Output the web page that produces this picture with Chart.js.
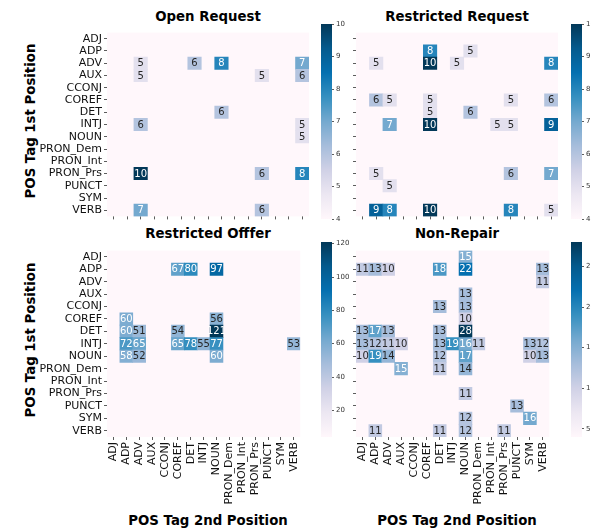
<!DOCTYPE html>
<html lang="en">
<head>
<meta charset="UTF-8">
<title>POS tag pairs</title>
<script src="https://cdn.jsdelivr.net/npm/chart.js"></script>
<style>
  * { margin: 0; padding: 0; box-sizing: border-box; }
  body {
    width: 591px; height: 530px; position: relative; overflow: hidden;
    background: #fff; font-family: "DejaVu Sans", sans-serif; color: #000;
  }
  canvas { position: absolute; }
  .title {
    position: absolute; font-weight: bold; font-size: 13.3px; white-space: nowrap;
    transform: translate(-50%, -50%);
  }
  .ytitle { transform: translate(-50%, -50%) rotate(-90deg); }
</style>
</head>
<body>
<!-- panel titles -->
<div class="title" style="left:208px;top:16px">Open Request</div>
<div class="title" style="left:457px;top:16px">Restricted Request</div>
<div class="title" style="left:208px;top:233px">Restricted Offfer</div>
<div class="title" style="left:457px;top:233px">Non-Repair</div>
<!-- axis titles -->
<div class="title ytitle" style="left:30px;top:121px">POS Tag 1st Position</div>
<div class="title ytitle" style="left:30px;top:340px">POS Tag 1st Position</div>
<div class="title" style="left:208px;top:520px">POS Tag 2nd Position</div>
<div class="title" style="left:457px;top:520px">POS Tag 2nd Position</div>

<canvas id="openReq" width="309" height="201" style="left:0;top:24px"></canvas>
<canvas id="restReq" width="218" height="201" style="left:340px;top:24px"></canvas>
<canvas id="restOff" width="309" height="275" style="left:0;top:242px"></canvas>
<canvas id="nonRep" width="218" height="275" style="left:340px;top:242px"></canvas>

<canvas id="cbOpen" width="31" height="215" style="left:321px;top:14px"></canvas>
<canvas id="cbRest" width="31" height="215" style="left:571px;top:14px"></canvas>
<canvas id="cbOffer" width="31" height="215" style="left:321px;top:232px"></canvas>
<canvas id="cbNon" width="31" height="215" style="left:571px;top:232px"></canvas>

<script>
const tags = ['ADJ', 'ADP', 'ADV', 'AUX', 'CCONJ', 'COREF', 'DET', 'INTJ', 'NOUN',
              'PRON_Dem', 'PRON_Int', 'PRON_Prs', 'PUNCT', 'SYM', 'VERB'];

// [1st position tag, 2nd position tag, count]  (blank cells are left out)
const openRequest = [
  ['ADV', 'ADV', 5], ['ADV', 'DET', 6], ['ADV', 'NOUN', 8], ['ADV', 'VERB', 7],
  ['AUX', 'ADV', 5], ['AUX', 'PRON_Prs', 5], ['AUX', 'VERB', 6],
  ['DET', 'NOUN', 6],
  ['INTJ', 'ADV', 6], ['INTJ', 'VERB', 5],
  ['NOUN', 'VERB', 5],
  ['PRON_Prs', 'ADV', 10], ['PRON_Prs', 'PRON_Prs', 6], ['PRON_Prs', 'VERB', 8],
  ['VERB', 'ADV', 7], ['VERB', 'PRON_Prs', 6]
];
const restrictedRequest = [
  ['ADP', 'COREF', 8], ['ADP', 'NOUN', 5],
  ['ADV', 'ADP', 5], ['ADV', 'COREF', 10], ['ADV', 'INTJ', 5], ['ADV', 'VERB', 8],
  ['COREF', 'ADP', 6], ['COREF', 'ADV', 5], ['COREF', 'COREF', 5], ['COREF', 'PRON_Prs', 5], ['COREF', 'VERB', 6],
  ['DET', 'COREF', 5], ['DET', 'NOUN', 6],
  ['INTJ', 'ADV', 7], ['INTJ', 'COREF', 10], ['INTJ', 'PRON_Int', 5], ['INTJ', 'PRON_Prs', 5], ['INTJ', 'VERB', 9],
  ['PRON_Prs', 'ADP', 5], ['PRON_Prs', 'PRON_Prs', 6], ['PRON_Prs', 'VERB', 7],
  ['PUNCT', 'ADV', 5],
  ['VERB', 'ADP', 9], ['VERB', 'ADV', 8], ['VERB', 'COREF', 10], ['VERB', 'PRON_Prs', 8], ['VERB', 'VERB', 5]
];
const restrictedOffer = [
  ['ADP', 'COREF', 67], ['ADP', 'DET', 80], ['ADP', 'NOUN', 97],
  ['COREF', 'ADP', 60], ['COREF', 'NOUN', 56],
  ['DET', 'ADP', 60], ['DET', 'ADV', 51], ['DET', 'COREF', 54], ['DET', 'NOUN', 121],
  ['INTJ', 'ADP', 72], ['INTJ', 'ADV', 65], ['INTJ', 'COREF', 65], ['INTJ', 'DET', 78],
  ['INTJ', 'INTJ', 55], ['INTJ', 'NOUN', 77], ['INTJ', 'VERB', 53],
  ['NOUN', 'ADP', 58], ['NOUN', 'ADV', 52], ['NOUN', 'NOUN', 60]
];
const nonRepair = [
  ['ADJ', 'NOUN', 15],
  ['ADP', 'ADJ', 11], ['ADP', 'ADP', 13], ['ADP', 'ADV', 10], ['ADP', 'DET', 18], ['ADP', 'NOUN', 22], ['ADP', 'VERB', 13],
  ['ADV', 'VERB', 11],
  ['AUX', 'NOUN', 13],
  ['CCONJ', 'DET', 13], ['CCONJ', 'NOUN', 13],
  ['COREF', 'NOUN', 10],
  ['DET', 'ADJ', 13], ['DET', 'ADP', 17], ['DET', 'ADV', 13], ['DET', 'DET', 13], ['DET', 'NOUN', 28],
  ['INTJ', 'ADJ', 13], ['INTJ', 'ADP', 12], ['INTJ', 'ADV', 11], ['INTJ', 'AUX', 10], ['INTJ', 'DET', 13],
  ['INTJ', 'INTJ', 19], ['INTJ', 'NOUN', 16], ['INTJ', 'PRON_Dem', 11], ['INTJ', 'SYM', 13], ['INTJ', 'VERB', 12],
  ['NOUN', 'ADJ', 10], ['NOUN', 'ADP', 19], ['NOUN', 'ADV', 14], ['NOUN', 'DET', 12], ['NOUN', 'NOUN', 17],
  ['NOUN', 'SYM', 10], ['NOUN', 'VERB', 13],
  ['PRON_Dem', 'AUX', 15], ['PRON_Dem', 'DET', 11], ['PRON_Dem', 'NOUN', 14],
  ['PRON_Prs', 'NOUN', 11],
  ['PUNCT', 'PUNCT', 13],
  ['SYM', 'NOUN', 12], ['SYM', 'SYM', 16],
  ['VERB', 'ADP', 11], ['VERB', 'DET', 11], ['VERB', 'NOUN', 12], ['VERB', 'PRON_Prs', 11]
];

// colour ranges and colorbar ticks
const openRange = [4, 10], openTicks = [4, 5, 6, 7, 8, 9, 10];
const restRange = [4, 10], restTicks = [4, 5, 6, 7, 8, 9, 10];
const offerRange = [4, 121], offerTicks = [20, 40, 60, 80, 100, 120];
const nonRange = [4, 28], nonTicks = [5, 10, 15, 20, 25];

// PuBu colormap
const pubu = ['#fff7fb', '#ece7f2', '#d0d1e6', '#a6bddb', '#74a9cf', '#3690c0', '#0570b0', '#045a8d', '#023858'];
const pubuRgb = pubu.map(h => [1, 3, 5].map(i => parseInt(h.substr(i, 2), 16)));

function cmap(t) {
  t = Math.max(0, Math.min(1, t)) * (pubuRgb.length - 1);
  const i = Math.min(Math.floor(t), pubuRgb.length - 2), f = t - i;
  return pubuRgb[i].map((c, k) => Math.round(c + (pubuRgb[i + 1][k] - c) * f));
}
function luminance(rgb) {
  const lin = c => { c /= 255; return c <= 0.03928 ? c / 12.92 : Math.pow((c + 0.055) / 1.055, 2.4); };
  return 0.2126 * lin(rgb[0]) + 0.7152 * lin(rgb[1]) + 0.0722 * lin(rgb[2]);
}

const FONT = '"DejaVu Sans", sans-serif';
Chart.defaults.font.family = FONT;
Chart.defaults.animation = false;

// pale background behind the empty cells
const areaBg = {
  id: 'areaBg',
  beforeDatasetsDraw(chart) {
    const { ctx, chartArea: a } = chart;
    ctx.save();
    ctx.fillStyle = pubu[0];
    ctx.fillRect(a.left, a.top, a.width, a.height);
    ctx.restore();
  }
};

// count written in the middle of each cell
const cellText = {
  id: 'cellText',
  afterDatasetsDraw(chart) {
    const { ctx } = chart;
    const ds = chart.data.datasets[0];
    ctx.save();
    ctx.font = '10px ' + FONT;
    ctx.textAlign = 'center';
    ctx.textBaseline = 'middle';
    chart.getDatasetMeta(0).data.forEach((bar, i) => {
      const raw = ds.data[i];
      const p = bar.getProps(['x', 'y', 'base'], true);
      ctx.fillStyle = luminance(raw.rgb) > 0.408 ? '#262626' : '#ffffff';
      ctx.fillText(String(raw.v), p.x, (p.y + p.base) / 2 + 0.5);
    });
    ctx.restore();
  }
};

function heatmap(id, cells, range, showY, showX) {
  const [vmin, vmax] = range;
  const data = cells.map(([r, c, v]) => {
    const row = tags.indexOf(r);
    return { x: c, y: [row - 0.5, row + 0.5], v: v, rgb: cmap((v - vmin) / (vmax - vmin)) };
  });
  new Chart(document.getElementById(id), {
    type: 'bar',
    data: {
      labels: tags,
      datasets: [{
        data: data,
        backgroundColor: ctx => ctx.raw ? 'rgb(' + ctx.raw.rgb.join(',') + ')' : 'transparent',
        borderWidth: 0,
        barPercentage: 1,
        categoryPercentage: 1
      }]
    },
    options: {
      responsive: false,
      layout: { padding: 0, autoPadding: false },
      plugins: { legend: { display: false }, tooltip: { enabled: false } },
      scales: {
        x: {
          type: 'category',
          offset: true,
          grid: { offset: false, drawOnChartArea: false, tickLength: 3, color: '#333', lineWidth: 0.8 },
          border: { display: false },
          ticks: {
            autoSkip: false,
            minRotation: showX ? 90 : 0,
            maxRotation: showX ? 90 : 0,
            padding: 2,
            color: '#111',
            font: { size: 11 },
            callback: (v, i) => showX ? tags[i] : ''
          },
          afterFit: s => { s.height = showX ? 80 : 6; }
        },
        y: {
          type: 'linear',
          reverse: true,
          min: -0.5,
          max: 14.5,
          afterBuildTicks: s => { s.ticks = tags.map((t, i) => ({ value: i })); },
          grid: { drawOnChartArea: false, tickLength: 3, color: '#333', lineWidth: 0.8 },
          border: { display: false },
          ticks: {
            autoSkip: false,
            padding: 2,
            color: '#111',
            font: { size: 11 },
            callback: v => showY ? tags[v] : ''
          },
          afterFit: s => { s.width = showY ? 107 : 16; }
        }
      }
    },
    plugins: [areaBg, cellText]
  });
}

function colorbar(id, range, tickVals) {
  const [vmin, vmax] = range;
  new Chart(document.getElementById(id), {
    type: 'bar',
    data: {
      labels: [''],
      datasets: [{
        data: [[vmin, vmax]],
        backgroundColor: ctx => {
          const a = ctx.chart.chartArea;
          if (!a) return pubu[4];
          const g = ctx.chart.ctx.createLinearGradient(0, a.bottom, 0, a.top);
          pubu.forEach((c, i) => g.addColorStop(i / (pubu.length - 1), c));
          return g;
        },
        borderWidth: 0,
        barPercentage: 1,
        categoryPercentage: 1
      }]
    },
    options: {
      responsive: false,
      layout: { padding: { top: 10, bottom: 10, left: 0, right: 0 }, autoPadding: false },
      plugins: { legend: { display: false }, tooltip: { enabled: false } },
      scales: {
        x: { display: false },
        y: {
          position: 'right',
          min: vmin,
          max: vmax,
          afterBuildTicks: s => { s.ticks = tickVals.map(v => ({ value: v })); },
          grid: { drawOnChartArea: false, tickLength: 2, color: '#333', lineWidth: 0.8 },
          border: { display: false },
          ticks: { autoSkip: false, padding: 2, color: '#333', font: { size: 7 } },
          afterFit: s => { s.width = 20; }
        }
      }
    }
  });
}

heatmap('openReq', openRequest, openRange, true, false);
heatmap('restReq', restrictedRequest, restRange, false, false);
heatmap('restOff', restrictedOffer, offerRange, true, true);
heatmap('nonRep', nonRepair, nonRange, false, true);

colorbar('cbOpen', openRange, openTicks);
colorbar('cbRest', restRange, restTicks);
colorbar('cbOffer', offerRange, offerTicks);
colorbar('cbNon', nonRange, nonTicks);
</script>
</body>
</html>
